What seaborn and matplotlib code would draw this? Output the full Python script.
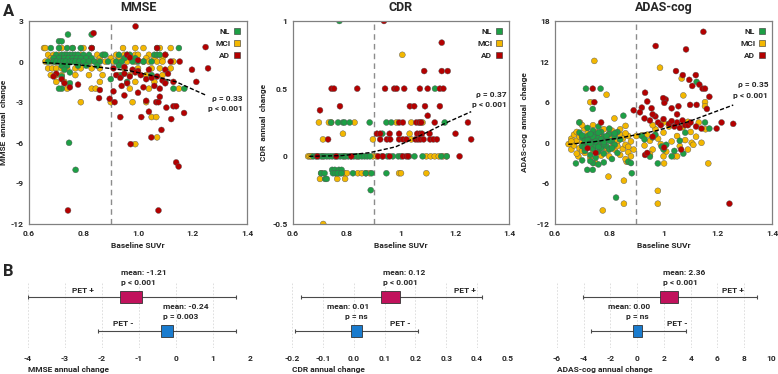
# Cambio anual en MMSE, CDR y ADAS-cog frente al SUVr basal (panel A)
# y media del cambio anual en PET+ / PET- (panel B).

import seaborn as sns
import matplotlib.pyplot as plt
import pandas as pd
from matplotlib.lines import Line2D

# ---------------- Panel A: puntos (SUVr basal, cambio anual) ----------------
mmse_nl = [
    (0.743, 2.0), (0.83, 2.0), (0.71, 1.5), (0.72, 1.5),
    (0.68, 1.0), (0.71, 1.0), (0.74, 1.0), (0.76, 1.0), (0.79, 1.0), (0.83, 1.0), (1.07, 1.0), (1.15, 1.0),
    (0.70, 0.5), (0.72, 0.5), (0.73, 0.5), (0.74, 0.5), (0.75, 0.5), (0.76, 0.5), (0.77, 0.5), (0.78, 0.5),
    (0.80, 0.5), (0.82, 0.5), (0.87, 0.5), (0.88, 0.5), (0.93, 0.5), (0.96, 0.5), (0.97, 0.5), (1.06, 0.5),
    (1.07, 0.5), (1.08, 0.5),
    (0.69, 0.25), (0.71, 0.25), (0.73, 0.25), (0.745, 0.25), (0.76, 0.25), (0.775, 0.25), (0.79, 0.25),
    (0.81, 0.25), (0.83, 0.25), (0.95, 0.25), (0.99, 0.25),
    (0.67, 0.0), (0.69, 0.0), (0.70, 0.0), (0.715, 0.0), (0.725, 0.0), (0.735, 0.0), (0.75, 0.0), (0.76, 0.0),
    (0.77, 0.0), (0.785, 0.0), (0.80, 0.0), (0.82, 0.0), (0.84, 0.0), (0.86, 0.0), (0.89, 0.0), (0.92, 0.0),
    (0.94, 0.0), (0.98, 0.0), (1.00, 0.0), (1.02, 0.0), (1.05, 0.0),
    (0.72, -0.3), (0.74, -0.3), (0.78, -0.3), (0.81, -0.3), (0.85, -0.3), (0.93, -0.3),
    (0.73, -0.6), (0.75, -0.8), (0.72, -1.1), (0.94, -1.0), (0.90, -1.3), (1.05, -1.0), (0.96, -1.5),
    (0.75, -1.6), (1.13, -2.0), (1.17, -2.0), (0.72, -2.0), (0.71, -2.0), (1.10, -1.5),
    (0.747, -6.0), (0.771, -8.0),
]
mmse_mci = [
    (0.655, 1.0), (0.66, 1.0), (0.72, 1.0), (0.76, 1.0), (0.80, 1.0), (0.83, 1.0), (0.945, 1.0), (0.99, 1.0),
    (1.02, 1.0), (1.08, 1.0), (1.12, 1.0),
    (0.67, 0.5), (0.69, 0.5), (0.71, 0.5), (0.735, 0.5), (0.79, 0.5), (0.85, 0.5), (0.875, 0.5), (0.92, 0.5),
    (0.95, 0.5), (0.99, 0.5), (1.00, 0.5), (1.04, 0.5), (1.10, 0.5),
    (0.68, 0.25), (0.70, 0.25), (0.72, 0.25), (0.75, 0.25), (0.80, 0.25), (0.86, 0.25), (0.90, 0.25),
    (0.93, 0.25), (1.03, 0.25), (1.06, 0.25), (1.09, 0.25),
    (0.66, 0.0), (0.68, 0.0), (0.695, 0.0), (0.71, 0.0), (0.73, 0.0), (0.755, 0.0), (0.78, 0.0), (0.80, 0.0),
    (0.825, 0.0), (0.85, 0.0), (0.88, 0.0), (0.91, 0.0), (0.96, 0.0), (0.99, 0.0), (1.02, 0.0), (1.04, 0.0),
    (1.07, 0.0), (1.09, 0.0), (1.13, 0.0),
    (0.67, -0.5), (0.685, -0.5), (0.70, -0.5), (0.72, -0.5), (0.74, -0.5), (0.77, -0.5), (0.79, -0.5),
    (0.83, -0.5), (0.86, -0.5), (0.95, -0.5), (1.00, -0.5), (1.05, -0.5), (1.08, -0.5), (1.12, -0.5),
    (0.68, -1.0), (0.70, -1.0), (0.72, -1.0), (0.77, -1.0), (0.82, -1.0), (0.87, -1.0), (0.93, -1.0),
    (0.97, -1.0), (1.03, -1.0), (1.09, -1.0),
    (0.70, -1.5), (0.73, -1.5), (0.86, -1.5), (0.99, -1.5), (1.06, -1.5),
    (0.74, -2.0), (0.83, -2.0), (0.845, -2.0), (0.97, -2.0), (1.04, -2.0), (1.15, -2.0),
    (0.79, -3.0), (0.90, -3.0), (0.98, -3.0), (1.03, -3.0),
    (1.05, -4.1), (1.067, -4.1), (1.07, -5.6), (0.99, -6.1),
]
mmse_ad = [
    (0.991, 2.6), (0.837, 2.1), (1.248, 1.07), (0.83, 1.0), (1.07, 1.0), (1.10, 0.5), (0.96, 0.5), (0.97, 0.3),
    (1.00, 0.1), (1.12, 0.0), (1.153, 0.0), (1.257, -0.5), (1.198, -0.6), (1.214, -1.5),
    (0.91, -0.5), (0.95, -0.4), (0.98, -0.6), (1.00, -0.7), (1.04, -0.6), (1.10, -0.6), (1.11, -0.9),
    (0.92, -1.0), (0.935, -1.2), (0.95, -0.9), (0.97, -1.1), (0.99, -0.8), (1.01, -1.0), (1.03, -1.3),
    (1.05, -1.2), (1.07, -1.1), (1.09, -1.4), (1.10, -1.6), (0.96, -1.6), (0.94, -1.8), (1.06, -1.8),
    (1.08, -2.0), (0.86, -2.1), (0.91, -2.2), (1.13, -1.5), (1.00, -2.3), (0.70, -0.9), (0.72, -1.3),
    (0.73, -1.6), (0.78, -1.7), (0.75, -1.9), (0.69, -1.1), (0.857, -2.7), (0.896, -2.75), (0.914, -3.0),
    (0.935, -4.1), (1.012, -4.1), (1.04, -3.7), (1.067, -3.0), (1.075, -3.0), (1.08, -2.6), (1.104, -3.4),
    (1.13, -3.3), (1.14, -3.3), (1.122, -4.25), (1.169, -3.8), (1.086, -5.05), (1.049, -5.6), (0.973, -6.1),
    (0.743, -11.0), (1.075, -11.0), (1.14, -7.45), (1.149, -7.75), (1.03, -2.9), (0.95, -2.5), (1.02, -1.9),
]

cdr_nl = [
    (0.772, 1.0), (1.126, 0.5),
    (0.741, 0.25), (0.767, 0.25), (0.785, 0.25), (0.791, 0.25), (0.81, 0.25), (0.884, 0.25), (0.946, 0.25),
    (0.964, 0.25), (1.162, 0.25), (0.931, 0.167),
    (0.675, 0.0), (0.685, 0.0), (0.695, 0.0), (0.705, 0.0), (0.715, 0.0), (0.725, 0.0), (0.735, 0.0),
    (0.745, 0.0), (0.755, 0.0), (0.765, 0.0), (0.775, 0.0), (0.785, 0.0), (0.795, 0.0), (0.805, 0.0),
    (0.815, 0.0), (0.825, 0.0), (0.835, 0.0), (0.845, 0.0), (0.855, 0.0), (0.865, 0.0), (0.875, 0.0),
    (0.885, 0.0), (0.93, 0.0), (0.95, 0.0), (0.97, 0.0), (0.99, 0.0), (1.00, 0.0), (1.03, 0.0), (1.05, 0.0),
    (1.08, 0.0), (1.149, 0.0), (1.17, 0.0),
    (0.745, -0.1), (0.755, -0.1), (0.77, -0.1), (0.78, -0.1),
    (0.704, -0.125), (0.717, -0.125), (0.748, -0.125), (0.757, -0.125), (0.766, -0.125), (0.78, -0.125),
    (0.822, -0.125), (0.87, -0.125), (0.891, -0.125), (0.946, -0.125),
    (0.719, -0.167), (0.725, -0.167), (0.888, -0.25),
]
cdr_mci = [
    (1.005, 0.75),
    (0.696, 0.25), (0.733, 0.25), (0.742, 0.25), (0.828, 0.25), (0.983, 0.25), (1.038, 0.25), (1.07, 0.25),
    (1.08, 0.25), (0.785, 0.167), (1.032, 0.167), (0.711, 0.125), (0.896, 0.125), (1.038, 0.125),
    (0.656, 0.0), (0.662, 0.0), (0.668, 0.0), (0.71, 0.0), (0.79, 0.0), (0.84, 0.0), (0.896, 0.0), (0.909, 0.0),
    (1.094, 0.0), (1.11, 0.0), (1.125, 0.0), (1.14, 0.0), (1.155, 0.0), (1.168, 0.0),
    (0.705, -0.125), (0.76, -0.125), (0.775, -0.125), (0.79, -0.125), (0.80, -0.125), (0.84, -0.125),
    (0.855, -0.125), (0.87, -0.125), (0.884, -0.125), (0.993, -0.125), (1.0, -0.125), (1.094, -0.125),
    (0.70, -0.167), (0.764, -0.167), (0.793, -0.167), (0.712, -0.5),
]
cdr_ad = [
    (0.937, 1.0), (1.151, 0.84), (1.086, 0.63), (1.151, 0.63), (1.173, 0.63),
    (0.743, 0.5), (0.752, 0.5), (0.838, 0.5), (0.941, 0.5), (0.975, 0.5), (0.984, 0.5), (1.012, 0.5),
    (1.07, 0.5), (1.099, 0.5), (1.144, 0.5), (1.157, 0.5),
    (0.70, 0.34), (0.774, 0.37), (1.033, 0.37), (1.049, 0.37), (1.089, 0.37), (1.144, 0.37), (1.099, 0.3),
    (0.993, 0.25), (1.007, 0.25), (1.057, 0.25), (1.067, 0.25), (1.075, 0.25), (1.125, 0.25), (1.248, 0.25),
    (0.911, 0.167), (0.923, 0.167), (0.958, 0.167), (0.993, 0.167), (1.06, 0.167), (1.07, 0.167),
    (1.078, 0.167), (1.106, 0.167), (1.202, 0.167),
    (0.73, 0.125), (0.923, 0.125), (0.948, 0.125), (0.96, 0.125), (0.993, 0.125), (1.007, 0.125),
    (1.02, 0.125), (1.054, 0.125), (1.063, 0.125), (1.072, 0.125), (1.084, 0.125), (1.108, 0.125),
    (1.12, 0.125), (1.133, 0.125), (1.26, 0.125),
    (0.69, 0.0), (0.76, 0.0), (0.816, 0.0), (0.915, 0.0), (0.933, 0.0), (0.958, 0.0), (1.007, 0.0),
    (1.02, 0.0), (1.026, 0.0), (1.217, 0.0),
]

adas_nl = [
    (0.714, 8.0), (0.768, 8.0), (0.739, 5.0), (0.852, 4.0), (0.689, 3.0), (1.122, 9.0), (1.153, 3.0),
    (1.169, 2.1), (0.825, -8.1), (0.883, -4.5), (0.677, -3.05), (0.719, -4.0), (0.739, -4.0), (0.87, -2.8),
    (0.88, -3.0), (0.979, -3.05), (0.95, -2.05), (1.03, -2.0), (1.073, -1.6), (0.993, -0.55), (0.92, 1.0),
    (0.93, 0.5), (0.96, 0.8), (0.97, 1.2), (1.0, -1.0), (1.01, -0.3), (1.04, -1.2), (1.06, 0.3), (1.08, 1.5),
    (0.69, 1.5), (0.70, 0.8), (0.70, -0.5), (0.71, 0.3), (0.71, -1.2), (0.72, 1.0), (0.72, -0.2), (0.73, 0.6),
    (0.73, -1.8), (0.74, 1.8), (0.74, 0.1), (0.74, -0.9), (0.75, 1.2), (0.75, -0.4), (0.75, -2.2),
    (0.76, 0.7), (0.76, -1.3), (0.77, 1.6), (0.77, 0.0), (0.77, -0.8), (0.78, 0.9), (0.78, -1.6),
    (0.79, 0.4), (0.79, -0.5), (0.80, 1.3), (0.80, -1.0), (0.81, 0.2), (0.81, -2.4), (0.82, 0.9),
    (0.82, -0.3), (0.83, 1.6), (0.83, -1.5), (0.84, 0.5), (0.72, 2.2), (0.76, 2.4), (0.80, 2.1),
    (0.74, -3.0), (0.76, -3.2), (0.73, -2.7), (0.78, -2.9), (0.70, -2.6),
    (0.70, 1.1), (0.71, -0.7), (0.72, 0.4), (0.73, -0.1), (0.74, 0.9), (0.75, 0.2), (0.76, -0.6),
    (0.77, 0.5), (0.78, -0.2), (0.79, 1.0), (0.80, 0.3), (0.81, -0.8), (0.82, 1.4), (0.73, 1.3),
    (0.76, 1.5), (0.78, 0.1),
]
adas_mci = [
    (0.745, 12.1), (0.987, 11.1), (1.067, 9.5), (0.79, 7.1), (0.73, 6.0), (0.819, 3.6), (0.692, 3.0),
    (0.708, 2.1), (1.153, 6.0), (1.153, 5.4), (1.073, 7.0), (1.155, 2.0), (1.104, 0.0), (1.14, 0.0),
    (1.165, -3.05), (0.797, -5.0), (0.854, -5.6), (0.854, -9.0), (0.979, -7.1), (0.979, -9.0),
    (0.776, -10.0), (0.864, -2.8), (0.686, -2.0), (1.002, -3.05), (0.75, -3.0),
    (0.65, -0.2), (0.66, 0.6), (0.66, -1.0), (0.67, 1.2), (0.67, -0.4), (0.68, 0.3), (0.68, -1.6),
    (0.69, 0.9), (0.69, -0.8), (0.70, 2.6), (0.70, 0.0), (0.71, -1.5), (0.72, 1.4), (0.72, -0.6),
    (0.73, 0.2), (0.73, -2.2), (0.74, 2.6), (0.74, -1.1), (0.75, 0.5), (0.76, -0.2), (0.76, 1.0),
    (0.77, -1.9), (0.78, 2.0), (0.78, 0.3), (0.79, -1.2), (0.80, 0.8), (0.80, -2.0), (0.81, 1.8),
    (0.81, -0.6), (0.82, -1.0), (0.83, 0.2), (0.84, 1.2), (0.84, -1.8), (0.85, 0.6), (0.85, -0.9),
    (0.86, 2.5), (0.86, -0.3), (0.87, 1.0), (0.87, -1.4), (0.88, 0.2), (0.89, -1.0), (0.88, -2.0),
    (0.86, -2.4), (0.66, 0.2), (0.68, 1.6), (0.70, -1.2), (0.71, 0.6), (0.74, -0.3), (0.75, 1.6),
    (0.77, 0.8), (0.79, -0.7), (0.80, 1.4), (0.82, 0.4), (0.83, -0.5), (0.84, 2.0), (0.86, 1.4),
    (0.87, -0.6),
    (0.90, 1.0), (0.92, 1.1), (0.94, 1.2), (0.93, -0.4), (0.95, 0.3), (0.96, -1.0), (0.97, 2.0),
    (0.98, 0.6), (0.99, -0.2), (1.00, 1.5), (1.01, -1.3), (1.02, 2.4), (1.03, 0.2), (1.04, -2.0),
    (1.05, 1.0), (1.06, -0.5), (1.07, 2.3), (1.08, 0.4), (1.09, -1.0), (1.10, 1.6), (1.11, -0.3),
    (1.12, 0.9), (1.13, 3.0), (1.05, -2.0), (1.00, -2.0), (0.96, 2.6), (1.00, 3.0), (0.95, -1.7),
    (1.09, 3.1),
]
adas_ad = [
    (1.147, 16.4), (0.971, 14.3), (1.083, 13.8), (1.046, 10.6), (1.071, 10.0), (1.119, 10.0),
    (1.095, 9.3), (1.106, 8.4), (1.132, 8.6), (1.144, 8.0), (1.153, 8.0), (0.739, 8.0), (0.932, 7.4),
    (1.169, 6.8), (1.008, 6.4), (1.003, 5.9), (0.94, 6.1), (0.745, 6.0), (0.92, 5.2), (0.89, 4.8),
    (0.956, 5.1), (1.03, 5.1), (1.055, 5.4), (1.098, 5.6), (1.122, 5.6), (1.16, 5.0), (0.77, 3.0),
    (0.913, 4.5), (0.93, 3.6), (0.95, 3.3), (0.97, 3.9), (0.98, 3.0), (0.99, 2.6), (1.00, 3.5),
    (1.02, 2.8), (1.03, 3.2), (1.04, 2.4), (1.05, 3.0), (1.06, 2.2), (1.07, 3.3), (1.08, 2.6),
    (1.09, 2.6), (1.10, 3.0), (1.12, 2.4), (1.14, 2.1), (1.196, 2.1), (1.214, 3.0), (1.257, 2.8),
    (0.999, 6.6), (0.96, 4.2), (1.05, 4.2), (0.932, -1.8), (1.002, -0.7), (1.065, -1.0), (1.243, -9.0),
    (0.72, -0.8), (0.75, -1.5), (0.94, -1.5), (0.96, 0.9),
]

# curvas de tendencia
mmse_trend_x = [0.651, 0.786, 0.894, 0.97, 1.043, 1.14, 1.251]
mmse_trend_y = [-0.07, -0.25, -0.5, -0.68, -1.0, -1.5, -2.5]
cdr_trend_x = [0.66, 0.78, 0.884, 0.98, 1.075, 1.17, 1.26]
cdr_trend_y = [0.0, 0.005, 0.027, 0.07, 0.157, 0.25, 0.33]
adas_trend_x = [0.649, 0.747, 0.846, 0.969, 1.092, 1.257]
adas_trend_y = [-0.23, 0.17, 0.76, 1.74, 3.12, 5.58]

rho_text = ["ρ = 0.33", "ρ = 0.37", "ρ = 0.35"]

# ---------------- Panel B: media (caja) y rango (bigotes) ----------------
pet_groups = ["PET +", "PET -"]
mmse_mean = [-1.21, -0.24]
mmse_box = [(-1.50, -0.93), (-0.41, -0.09)]
mmse_whisk = [(-4.0, 1.62), (-2.10, 1.62)]
mmse_p = ["p < 0.001", "p = 0.003"]
cdr_mean = [0.12, 0.01]
cdr_box = [(0.09, 0.15), (-0.009, 0.026)]
cdr_whisk = [(-0.172, 0.415), (-0.19, 0.21)]
cdr_p = ["p < 0.001", "p = ns"]
adas_mean = [2.36, 0.00]
adas_box = [(1.72, 3.02), (-0.28, 0.34)]
adas_whisk = [(-4.03, 8.93), (-3.48, 3.62)]
adas_p = ["p < 0.001", "p = ns"]

sns.set_style("white")
plt.rcParams["font.family"] = ["Roboto", "DejaVu Sans"]

colores = {"NL": "#1d9f45", "MCI": "#f3b700", "AD": "#b40000"}
colores_pet = ["#c1125c", "#1a7ccf"]
grupos = ["NL", "MCI", "AD"]
fs = 6


def tabla(nl, mci, ad):
    filas = ([(x, y, "MCI") for x, y in mci] + [(x, y, "NL") for x, y in nl]
             + [(x, y, "AD") for x, y in ad])
    return pd.DataFrame(filas, columns=["suvr", "cambio", "grupo"])


fig = plt.figure(figsize=(7.78, 3.74), dpi=100)

# (titulo, datos, tendencia x/y, ylim, yticks, etiquetas y, etiquetas x, ylabel,
#  posición, texto rho, posición de la etiqueta y en coord. de ejes)
paneles_a = [
    ("MMSE", tabla(mmse_nl, mmse_mci, mmse_ad), mmse_trend_x, mmse_trend_y, (-12, 3),
     [3, 0, -3, -6, -9, -12], ["3", "0", "-3", "-6", "-9", "-12"], ["0.6", "0.8", "1.0", "1.2", "1.4"],
     "MMSE  annual  change", [0.0373, 0.4011, 0.2802, 0.5428], (1.384, -2.72, -3.47), -0.10),
    ("CDR", tabla(cdr_nl, cdr_mci, cdr_ad), cdr_trend_x, cdr_trend_y, (-0.5, 1),
     [1, 0.5, 0, -0.5], ["1", "0.5", "0", "-0.5"], ["0.6", "0.8", "1", "1.2", "1.4"],
     "CDR  annual  change", [0.3766, 0.4011, 0.2776, 0.5428], (1.391, 0.458, 0.384), -0.12),
    ("ADAS-cog", tabla(adas_nl, adas_mci, adas_ad), adas_trend_x, adas_trend_y, (-12, 18),
     [18, 12, 6, 0, -6, -12], ["18", "12", "6", "0", "-6", "-12"], ["0.6", "0.8", "1", "1.2", "1.4"],
     "ADAS-cog  annual  change", [0.7134, 0.4011, 0.2789, 0.5428], (1.386, 8.54, 7.06), -0.125),
]

for i, (titulo, df, tx, ty, ylim, yt, ytl, xtl, ylab, pos, rpos, ylx) in enumerate(paneles_a):
    ax = fig.add_axes(pos)
    sns.scatterplot(data=df, x="suvr", y="cambio", hue="grupo", palette=colores, s=18,
                    edgecolor="#555555", linewidth=0.3, legend=False, ax=ax, zorder=2)
    ax.axvline(0.9, color="#8c8c8c", linestyle=(0, (4, 3)), linewidth=1, zorder=1)
    sns.lineplot(x=tx, y=ty, color="black", linestyle=(0, (3, 1.5)), linewidth=1, ax=ax, zorder=3)
    ax.set_xlim(0.6, 1.4)
    ax.set_ylim(*ylim)
    ax.set_xticks([0.6, 0.8, 1.0, 1.2, 1.4])
    ax.set_xticklabels(xtl)
    ax.set_yticks(yt)
    ax.set_yticklabels(ytl)
    ax.tick_params(length=0, labelsize=fs, pad=4)
    for t in ax.get_xticklabels() + ax.get_yticklabels():
        t.set_fontweight("bold")
    for s in ax.spines.values():
        s.set_color("#808080")
        s.set_linewidth(0.9)
    ax.set_xlabel("Baseline SUVr", fontsize=fs, fontweight="bold", labelpad=4)
    ax.set_ylabel(ylab, fontsize=fs, fontweight="bold")
    ax.yaxis.set_label_coords(ylx, 0.5)
    ax.set_title(titulo, fontsize=9, fontweight="bold", pad=7)
    ax.text(rpos[0], rpos[1], rho_text[i], ha="right", va="center", fontsize=fs, fontweight="bold")
    ax.text(rpos[0], rpos[2], "p < 0.001", ha="right", va="center", fontsize=fs, fontweight="bold")

    manijas = [Line2D([], [], marker="s", linestyle="", markersize=4.5, markerfacecolor=colores[g],
                      markeredgecolor="#333333", markeredgewidth=0.4) for g in grupos]
    ax.legend(manijas, grupos, loc="upper right", frameon=False, markerfirst=False,
              prop={"size": fs, "weight": "bold"}, handletextpad=0.4, labelspacing=0.6,
              handlelength=0.8, borderaxespad=0.4)

# ---------------- Panel B ----------------
paneles_b = [
    (mmse_mean, mmse_box, mmse_whisk, mmse_p, (-4, 2), list(range(-4, 3)),
     ["-4", "-3", "-2", "-1", "0", "1", "2"], "MMSE annual change", [0.0360, 0.0695, 0.2853, 0.1765],
     [(-1.49, -2.51), (-0.35, -1.43)]),
    (cdr_mean, cdr_box, cdr_whisk, cdr_p, (-0.2, 0.5), [-0.2, -0.1, 0.0, 0.1, 0.2, 0.3, 0.4, 0.5],
     ["-0.2", "-0.1", "0.0", "0.1", "0.2", "0.3", "0.4", "0.5"], "CDR annual change",
     [0.3753, 0.0695, 0.2776, 0.1765], [(0.094, 0.36), (-0.088, 0.15)]),
    (adas_mean, adas_box, adas_whisk, adas_p, (-6, 10), list(range(-6, 11, 2)),
     ["-6", "-4", "-2", "0", "2", "4", "6", "8", "10"], "ADAS-cog annual change",
     [0.7159, 0.0695, 0.2751, 0.1765], [(1.93, 7.16), (-2.19, 2.97)]),
]
y_pos = [1, 0]
y_mean = [1.71, 0.73]
y_pval = [1.42, 0.43]
y_pet = [1.19, 0.21]

for j, (medias, cajas, bigotes, pvals, xlim, xt, xtl, xlab, pos, txt) in enumerate(paneles_b):
    ax = fig.add_axes(pos)
    for k in range(2):
        lo, hi = bigotes[k]
        ax.errorbar(x=[(lo + hi) / 2], y=[y_pos[k]], xerr=[[(hi - lo) / 2], [(hi - lo) / 2]],
                    fmt="none", ecolor="#4a4a4a", elinewidth=0.8, capsize=1.6, capthick=0.8, zorder=2)
    ax.barh(y_pos, [c[1] - c[0] for c in cajas], left=[c[0] for c in cajas], height=0.38,
            color=colores_pet, edgecolor="#333333", linewidth=0.6, zorder=3)
    for k in range(2):
        xm, xp = txt[k]
        ax.text(xm, y_mean[k], f"mean: {medias[k]:.2f}", ha="left", va="center", fontsize=fs,
                fontweight="bold", clip_on=False)
        x_p = xm if pvals[k] != "p = ns" else xm + (xlim[1] - xlim[0]) * 0.085
        ax.text(x_p, y_pval[k], pvals[k], ha="left", va="center", fontsize=fs,
                fontweight="bold", clip_on=False)
        ax.text(xp, y_pet[k], pet_groups[k], ha="center", va="center", fontsize=fs,
                fontweight="bold", clip_on=False)
    ax.set_xlim(*xlim)
    ax.set_ylim(-0.5, 1.44)
    ax.set_xticks(xt)
    ax.set_xticklabels(xtl)
    ax.set_yticks([])
    ax.grid(axis="x", color="#d9d9d9", linewidth=0.6, linestyle=(0, (2, 2)))
    ax.set_axisbelow(True)
    ax.tick_params(length=0, labelsize=fs, pad=5)
    for t in ax.get_xticklabels():
        t.set_fontweight("bold")
    for s in ax.spines.values():
        s.set_visible(False)
    ax.set_xlabel(xlab, loc="left", fontsize=fs, fontweight="bold", labelpad=3)

fig.text(0.004, 0.99, "A", fontsize=12, fontweight="bold", va="top", ha="left")
fig.text(0.004, 0.295, "B", fontsize=12, fontweight="bold", va="top", ha="left")

fig.savefig("out.png", dpi=100)
